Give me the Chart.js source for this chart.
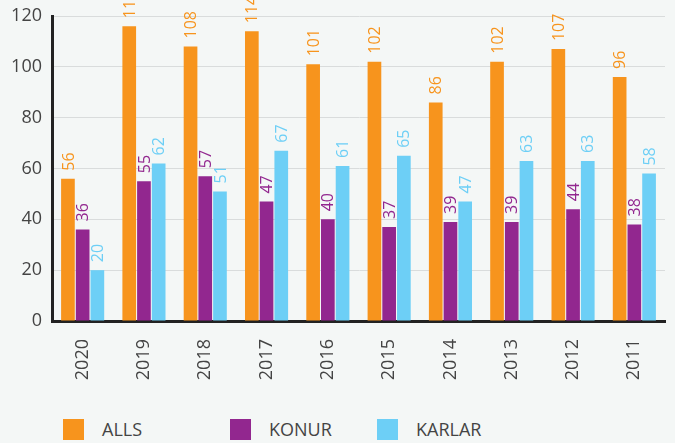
<!DOCTYPE html>
<html>
<head>
<meta charset="utf-8">
<script src="https://cdn.jsdelivr.net/npm/chart.js@4/dist/chart.umd.min.js"></script>
<style>
    html, body { margin: 0; padding: 0; background: #f4f7f6; }
    #wrap { position: relative; width: 675px; height: 443px; }
    #chartBox { position: absolute; left: 0; top: 0; width: 675px; height: 401px; }
    .legendItem { position: absolute; top: 419px; height: 22px; font-family: "Open Sans", sans-serif; font-size: 18px; color: #444; }
    .legendItem span.box { position: absolute; left: 0; top: 0; width: 21px; height: 21px; }
    .legendItem span.txt { position: absolute; left: 39px; top: -2px; white-space: nowrap; }
</style>
</head>
<body>
<div id="wrap">
    <div id="chartBox"><canvas id="barChart"></canvas></div>
    <div id="legend"></div>
</div>
<script>

const years = ["2020", "2019", "2018", "2017", "2016", "2015", "2014", "2013", "2012", "2011"];

const allsValues  = [56, 116, 108, 114, 101, 102, 86, 102, 107, 96];
const konurValues = [36, 55, 57, 47, 40, 37, 39, 39, 44, 38];
const karlarValues = [20, 62, 51, 67, 61, 65, 47, 63, 63, 58];

const seriesNames  = ["ALLS", "KONUR", "KARLAR"];
const seriesColors = ["#f7941d", "#92278f", "#6dcff6"];

const yTicks = [0, 20, 40, 60, 80, 100, 120];

/* ==========================
   VALUE LABELS (rotated)
========================== */

const valueLabels = {
    id: "valueLabels",
    afterDatasetsDraw(chart) {
        const ctx = chart.ctx;
        chart.data.datasets.forEach((ds, i) => {
            const meta = chart.getDatasetMeta(i);
            meta.data.forEach((bar, j) => {
                ctx.save();
                ctx.translate(bar.x, bar.y - 8);
                ctx.rotate(-Math.PI / 2);
                ctx.fillStyle = ds.backgroundColor;
                ctx.font = "16px 'Open Sans', sans-serif";
                ctx.textAlign = "left";
                ctx.textBaseline = "middle";
                ctx.fillText(String(ds.data[j]), 0, 1);
                ctx.restore();
            });
        });
    }
};

const canvas = document.getElementById("barChart");

new Chart(canvas, {

    type: "bar",

    data: {
        labels: years,
        datasets: [allsValues, konurValues, karlarValues].map((vals, i) => ({
            label: seriesNames[i],
            data: vals,
            backgroundColor: seriesColors[i],
            borderWidth: 0,
            barPercentage: 0.93,
            categoryPercentage: 0.72
        }))
    },

    options: {
        responsive: true,
        maintainAspectRatio: false,
        animation: false,
        layout: {
            padding: { top: 16, right: 10, left: 0, bottom: 0 }
        },
        plugins: {
            legend: { display: false },
            tooltip: { enabled: false }
        },
        scales: {
            x: {
                grid: { display: false, drawTicks: false },
                border: { display: true, color: "#222", width: 3 },
                ticks: {
                    minRotation: 90,
                    maxRotation: 90,
                    padding: 18,
                    color: "#444",
                    font: { family: "'Open Sans', sans-serif", size: 18 }
                },
                afterFit(scale) {
                    scale.height = 80;
                    scale.paddingLeft = 0;
                    scale.paddingRight = 0;
                }
            },
            y: {
                min: 0,
                max: 120,
                afterBuildTicks(scale) {
                    scale.ticks = yTicks.map(v => ({ value: v }));
                },
                grid: { color: "#d9dcdc", lineWidth: 1, drawTicks: false },
                border: { display: true, color: "#222", width: 3 },
                ticks: {
                    padding: 10,
                    color: "#444",
                    font: { family: "'Open Sans', sans-serif", size: 18 }
                },
                afterFit(scale) {
                    scale.width = 52;
                    scale.paddingTop = 0;
                    scale.paddingBottom = 0;
                }
            }
        }
    },

    plugins: [valueLabels]
});

/* ==========================
   LEGEND
========================== */

const legendLeft = [63, 230, 377];
const legend = document.getElementById("legend");
seriesNames.forEach((name, i) => {
    const item = document.createElement("div");
    item.className = "legendItem";
    item.style.left = legendLeft[i] + "px";
    item.innerHTML = '<span class="box" style="background:' + seriesColors[i] + '"></span><span class="txt">' + name + '</span>';
    legend.appendChild(item);
});

</script>
</body>
</html>
